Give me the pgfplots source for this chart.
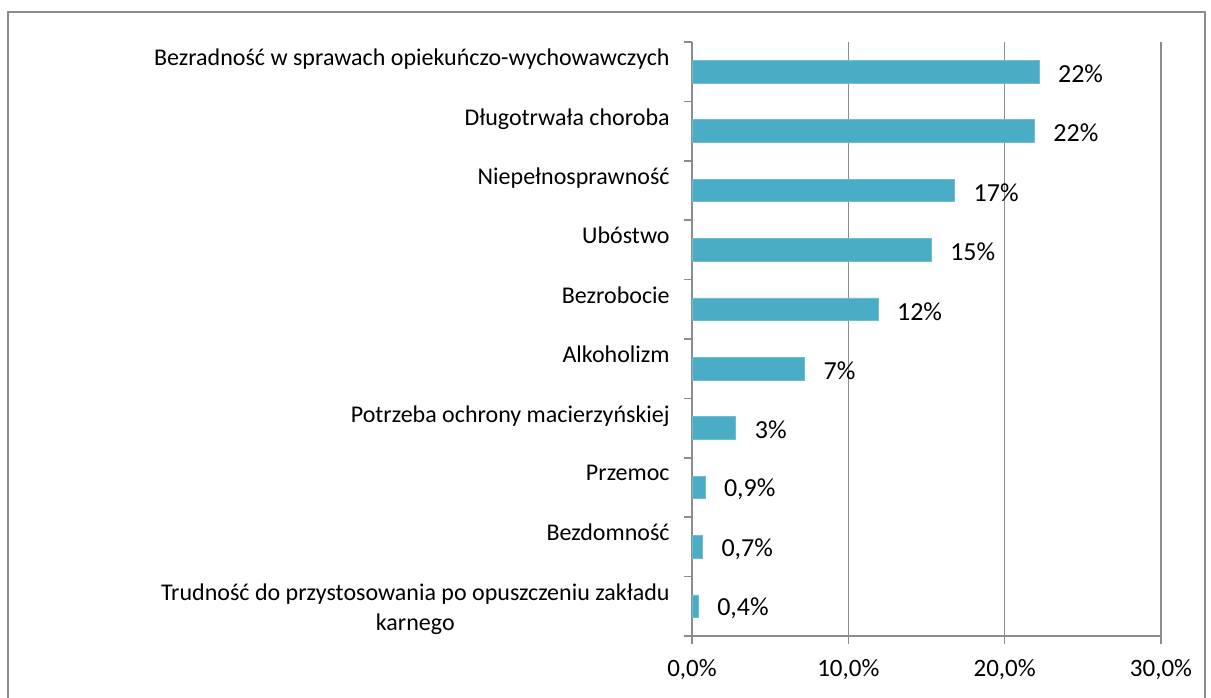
\documentclass[border=0pt]{standalone}
\usepackage{pgfplots}
\pgfplotsset{compat=1.18}
\usepackage{fontspec}
\setmainfont{Carlito}
\definecolor{barc}{HTML}{4BACC6}
\definecolor{gridc}{HTML}{8C8C8C}
\begin{document}
\begin{tikzpicture}[x=1pt,y=1pt]
\path[use as bounding box] (0,0) rectangle (605.5,348.5);
\draw[gridc, line width=1pt] (4,-5) -- (4,342.5) -- (602.5,342.5) -- (602.5,-5);
\begin{axis}[
  at={(346pt,30.5pt)}, anchor=south west,
  scale only axis, width=234.5pt, height=297pt,
  xbar, bar width=11.35pt,
  xmin=0, xmax=30,
  ymin=-0.5, ymax=9.5, y dir=reverse,
  axis x line=bottom, axis y line=left,
  axis line style={-, gridc, line width=0.75pt},
  xtick={0,10,20,30},
  xticklabels={{0,0\%},{10,0\%},{20,0\%},{30,0\%}},
  xmajorgrids, major grid style={gridc, line width=0.75pt},
  major x tick style={gridc, line width=0.75pt},
  xtick align=outside, major tick length=4pt,
  ytick={0,...,9},
  major y tick style={draw=none},
  minor ytick={-0.5,0.5,...,9.5},
  minor y tick style={gridc, line width=0.75pt},
  minor tick length=4pt, ytick align=outside,
  xticklabel style={font=\fontsize{12.5}{14}\selectfont, yshift=-4pt},
  yticklabel style={font=\fontsize{12}{15}\selectfont, align=center, anchor=north east, inner sep=0pt, xshift=-7pt, yshift=11.5pt},
  yticklabels={
    Bezradność w sprawach opiekuńczo-wychowawczych,
    Długotrwała choroba,
    Niepełnosprawność,
    Ubóstwo,
    Bezrobocie,
    Alkoholizm,
    Potrzeba ochrony macierzyńskiej,
    Przemoc,
    Bezdomność,
    {Trudność do przystosowania po opuszczeniu zakładu\\karnego}
  },
  nodes near coords,
  point meta=explicit symbolic,
  every node near coord/.append style={font=\fontsize{13}{15}\selectfont, anchor=west, xshift=6pt, yshift=-1pt, text=black},
]
\addplot[fill=barc, draw=barc!80!white] table[meta=lab] {
x y lab
22.2 0 22\%
21.9 1 22\%
16.8 2 17\%
15.3 3 15\%
11.9 4 12\%
7.2 5 7\%
2.8 6 3\%
0.83 7 0,9\%
0.67 8 0,7\%
0.4 9 0,4\%
};
\end{axis}
\end{tikzpicture}
\end{document}
